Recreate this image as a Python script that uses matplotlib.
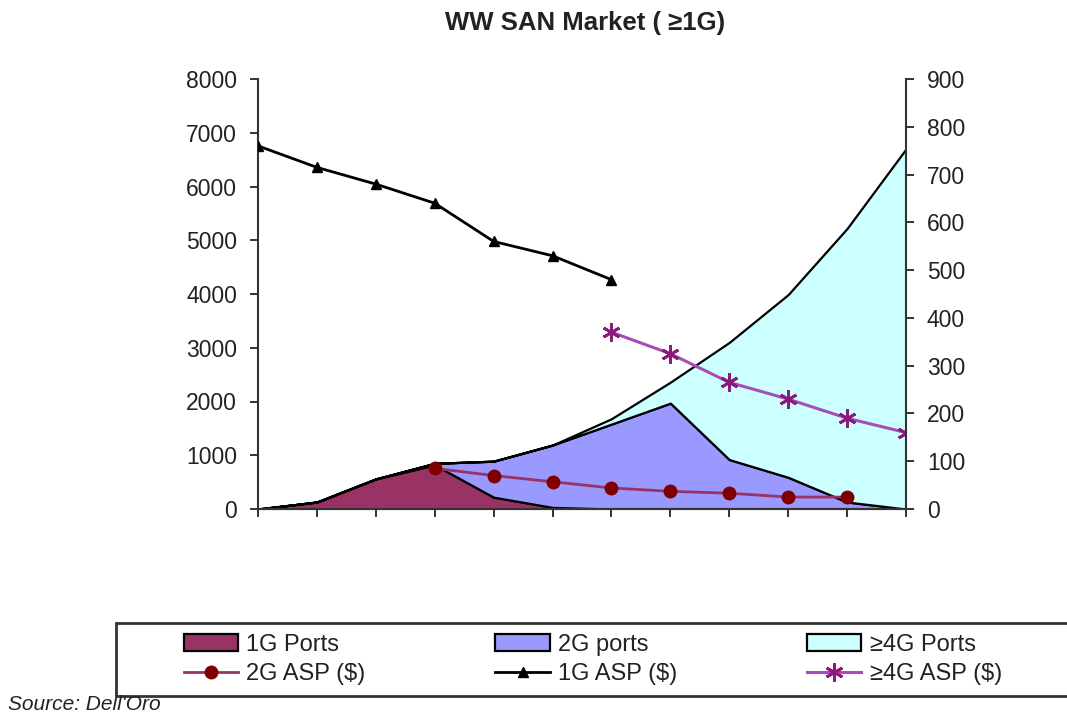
import matplotlib
matplotlib.use("Agg")
import matplotlib.pyplot as plt
from matplotlib.patches import Rectangle
import numpy as np

plt.rcParams['font.family'] = ['Liberation Sans', 'DejaVu Sans']

# periods on the x axis (no labels shown in the original)
periods = list(range(12))

# port shipments (thousands), stacked
ports_1g = [0, 130, 560, 820, 220, 30, 0, 0, 0, 0, 0, 0]
ports_2g = [0, 0, 0, 30, 670, 1160, 1580, 1970, 920, 590, 130, 0]
ports_4g = [0, 0, 0, 0, 0, 0, 100, 390, 2180, 3400, 5090, 6700]

# average selling prices ($), right axis
asp_1g = [760, 715, 680, 640, 560, 530, 480]
asp_1g_x = periods[0:7]
asp_2g = [85, 70, 57, 44, 37, 33, 25, 25]
asp_2g_x = periods[3:11]
asp_4g = [370, 325, 265, 230, 190, 160]
asp_4g_x = periods[6:12]

fig = plt.figure(figsize=(10.67, 7.17), dpi=100)
ax = fig.add_axes([258/1067, 1-509/717, (906-258)/1067, (509-79)/717])

polys = ax.stackplot(periods, ports_1g, ports_2g, ports_4g,
                     colors=['#993366', '#9999FF', '#CCFFFF'],
                     edgecolor='black', linewidth=1.6,
                     labels=['1G Ports', '2G ports', '≥4G Ports'])

ax.set_xlim(0, 11)
ax.set_ylim(0, 8000)
ax.set_yticks(range(0, 8001, 1000))
ax.set_xticks(periods)
ax.set_xticklabels([])

ax2 = ax.twinx()
ax2.set_ylim(0, 900)
ax2.set_yticks(range(0, 901, 100))

l2, = ax2.plot(asp_2g_x, asp_2g, color='#993366', lw=2, marker='o',
               ms=9, mfc='#800000', mec='#800000', label='2G ASP ($)')
l1, = ax2.plot(asp_1g_x, asp_1g, color='black', lw=2, marker='^',
               ms=6.5, mfc='black', mec='black', label='1G ASP ($)')
l4, = ax2.plot(asp_4g_x, asp_4g, color='#A64DB8', lw=2.2, marker=(6, 2, 0),
               ms=13, mec='#8B1A7A', mew=2, label='≥4G ASP ($)')

for a in (ax, ax2):
    a.spines['top'].set_visible(False)
    for s in a.spines.values():
        s.set_linewidth(1.5)
        s.set_color('#333333')
    a.tick_params(direction='out', length=6, width=1.4, color='#333333',
                  labelsize=16.5, labelcolor='#222222', pad=9)
ax2.spines['left'].set_visible(False)
ax.spines['right'].set_visible(False)

fig.text(585/1067, 1-23/717, 'WW SAN Market ( ≥1G)', ha='center', va='center',
         fontsize=18.5, fontweight='bold', color='#222222')

handles = [polys[0], l2, polys[1], l1, polys[2], l4]
labels = [h.get_label() for h in handles]
leg = fig.legend(handles, labels, ncol=3, loc='upper left',
                 bbox_to_anchor=(172/1067, 1-622/717), frameon=False,
                 fontsize=17, handlelength=2.3, handletextpad=0.35,
                 columnspacing=5.5, labelspacing=0.32, borderpad=0,
                 numpoints=1)
for t in leg.get_texts():
    t.set_color('#222222')

fig.patches.append(Rectangle((116/1067, 1-696/717), (1080-116)/1067, (696-623)/717,
                             transform=fig.transFigure, fill=False,
                             edgecolor='#333333', linewidth=2))

fig.text(8/1067, 1-705/717, "Source: Dell'Oro", ha='left', va='center',
         fontsize=15, style='italic', color='#222222')

fig.savefig('out.png', dpi=100)
